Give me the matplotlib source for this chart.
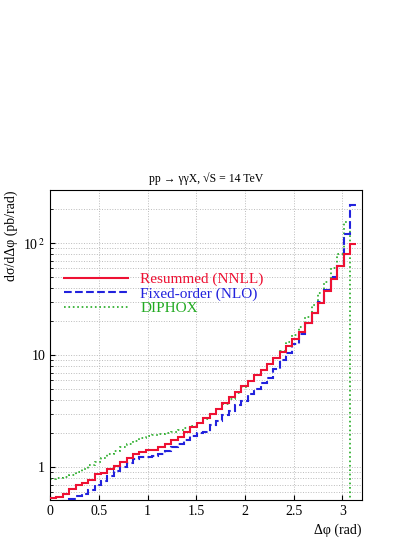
import numpy as np
import matplotlib.pyplot as plt
from matplotlib.ticker import FixedLocator, NullFormatter

plt.rcParams["font.family"] = ["Liberation Serif", "DejaVu Serif"]
plt.rcParams["mathtext.fontset"] = "stix"

edges = np.linspace(0, np.pi, 49)

resummed = [0.53, 0.545, 0.58, 0.64, 0.70, 0.72, 0.775, 0.86, 0.88, 0.965,
            1.03, 1.11, 1.21, 1.30, 1.36, 1.41, 1.41, 1.51, 1.62, 1.74,
            1.86, 2.06, 2.29, 2.48, 2.74, 3.01, 3.34, 3.71, 4.19, 4.71,
            5.3, 5.9, 6.6, 7.4, 8.3, 9.4, 10.6, 12.2, 14.0, 16.0,
            19.4, 23.9, 29.3, 37.2, 47.6, 62, 80, 98]
fixed_order = [0.48, 0.49, 0.50, 0.52, 0.55, 0.58, 0.63, 0.70, 0.76, 0.84,
               0.93, 1.0, 1.1, 1.18, 1.22, 1.24, 1.26, 1.30, 1.40, 1.50,
               1.60, 1.74, 1.90, 2.0, 2.05, 2.4, 2.6, 2.9, 3.2, 3.6,
               3.9, 4.5, 5.0, 5.6, 6.3, 7.6, 9.0, 10.5, 12.7, 15.5,
               19.4, 24, 30, 38, 50, 62, 120, 220]
diphox = [0.78, 0.80, 0.82, 0.85, 0.9, 0.97, 1.05, 1.12, 1.2, 1.3,
          1.4, 1.5, 1.6, 1.7, 1.82, 1.9, 1.95, 1.97, 2.0, 2.05,
          2.15, 2.25, 2.35, 2.5, 2.7, 3.0, 3.3, 3.7, 4.1, 4.6,
          5.2, 5.9, 6.6, 7.4, 8.3, 9.5, 11, 13, 15, 18,
          22, 28, 36, 45, 60, 80, 155, 1e-3]

fig = plt.figure(figsize=(4.17, 5.39), dpi=100)
ax = fig.add_axes([0.12, 0.072, 0.748, 0.575])

ax.stairs(diphox[:-1], edges[:-1], color="#22aa22", ls=":", lw=1.2, label="DIPHOX",
          baseline=None, zorder=2)
# green curve drops to zero in the last bin
ax.plot([edges[-2], edges[-2]], [diphox[-2], diphox[-1]], color="#22aa22", ls=":", lw=1.2)
ax.stairs(fixed_order, edges, color="#2222dd", ls="--", lw=1.5, label="Fixed-order (NLO)",
          baseline=None, zorder=3)
ax.stairs(resummed, edges, color="#ee1133", lw=1.5, label="Resummed (NNLL)",
          baseline=None, zorder=4)

ax.set_yscale("log")
ax.set_xlim(0, 3.2)
ax.set_ylim(0.507, 297)
ax.set_xticks([0, 0.5, 1, 1.5, 2, 2.5, 3])
ax.set_xticklabels(["0", "0.5", "1", "1.5", "2", "2.5", "3"])
ax.yaxis.set_major_locator(FixedLocator([1, 10, 100]))
ax.set_yticklabels(["1", "10", r"10$^{\,2}$"])
ax.yaxis.set_minor_formatter(NullFormatter())
ax.grid(True, which="both", ls=":", color="#bbbbbb", lw=0.7)
ax.tick_params(direction="in", which="both", top=False, right=False, labelsize=10)

ax.set_xlabel("Δφ (rad)", loc="right", fontsize=10)
ax.set_ylabel("dσ/dΔφ (pb/rad)", loc="top", fontsize=10)
ax.set_title("pp → γγX, √S = 14 TeV", fontsize=8.5)

h, l = ax.get_legend_handles_labels()
leg = ax.legend(h[::-1], l[::-1], loc="upper left", bbox_to_anchor=(0.0, 0.78),
                frameon=False, fontsize=11, handlelength=4.2, labelspacing=0.05)
for txt, c in zip(leg.get_texts(), ["#ee1133", "#2222dd", "#22aa22"]):
    txt.set_color(c)

fig.savefig("out.png", dpi=100)
